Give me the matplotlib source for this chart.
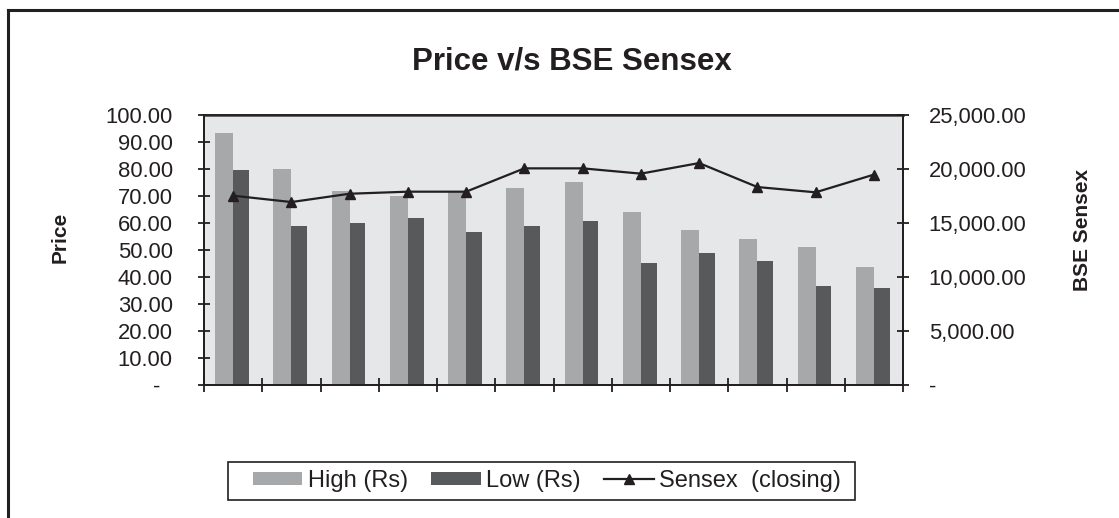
import numpy as np
import matplotlib.pyplot as plt
from matplotlib.lines import Line2D
from matplotlib.patches import Rectangle
from matplotlib.ticker import FuncFormatter, MultipleLocator

plt.rcParams['font.family'] = ['Liberation Sans', 'DejaVu Sans']

# values (12 months, no labels shown)
high = [93.3, 80.0, 72.0, 70.0, 71.6, 73.0, 75.2, 64.0, 57.4, 54.0, 51.1, 43.7]
low = [79.6, 58.9, 60.0, 61.9, 56.7, 59.0, 60.7, 45.2, 48.9, 45.9, 36.7, 35.9]
sensex = [17530, 16940, 17710, 17900, 17900, 20060, 20060, 19570, 20550, 18330, 17840, 19480]

x = np.arange(len(high))

fig = plt.figure(figsize=(11.19, 5.18), dpi=100)
ax = fig.add_axes([204 / 1119, 1 - 385 / 518, 699 / 1119, 270 / 518])
ax.set_facecolor('#e6e7e8')

ax.bar(x - 0.155, high, width=0.31, color='#a7a8aa', label='High (Rs)', zorder=2)
ax.bar(x + 0.135, low, width=0.27, color='#58595b', label='Low (Rs)', zorder=2)
ax.set_xlim(-0.5, len(high) - 0.5)
ax.set_ylim(0, 100)

ax2 = ax.twinx()
ax2.plot(x, sensex, color='#231f20', lw=1.6, marker='^', ms=7, label='Sensex  (closing)')
ax2.set_ylim(0, 25000)

def left_fmt(v, pos):
    return '-  ' if abs(v) < 1e-9 else f'{v:.2f}'

def right_fmt(v, pos):
    return '-' if abs(v) < 1e-9 else f'{v:,.2f}'

ax.yaxis.set_major_locator(MultipleLocator(10))
ax.yaxis.set_major_formatter(FuncFormatter(left_fmt))
ax2.yaxis.set_major_locator(MultipleLocator(5000))
ax2.yaxis.set_major_formatter(FuncFormatter(right_fmt))

ax.set_xticks(np.arange(-0.5, len(high), 1.0))
ax.set_xticklabels([])
ax.tick_params(axis='x', direction='inout', length=10, width=1.3, color='#231f20')
ax.tick_params(axis='y', direction='inout', length=9, width=1.3, color='#231f20',
               labelsize=15.8, labelcolor='#231f20', pad=18)
ax2.tick_params(axis='y', direction='inout', length=9, width=1.3, color='#231f20',
                labelsize=15.8, labelcolor='#231f20', pad=14)

for a in (ax, ax2):
    for s in a.spines.values():
        s.set_color('#231f20')
        s.set_linewidth(1.3)
ax.spines['top'].set_color('#58595b')
ax.spines['top'].set_linewidth(2)

fig.text(572 / 1119, 1 - 61 / 518, 'Price v/s BSE Sensex', ha='center', va='center',
         fontsize=22.5, fontweight='bold', color='#231f20')
fig.text(60 / 1119, 1 - 237 / 518, 'Price', ha='center', va='center', rotation=90,
         fontsize=15, fontweight='bold', color='#231f20')
fig.text(1083 / 1119, 1 - 230 / 518, 'BSE Sensex', ha='center', va='center', rotation=90,
         fontsize=15, fontweight='bold', color='#231f20')

h1, l1 = ax.get_legend_handles_labels()
h2, l2 = ax2.get_legend_handles_labels()
leg = fig.legend(h1 + h2, l1 + l2, loc='center', bbox_to_anchor=(547 / 1119, 1 - 481 / 518),
                 ncol=3, fontsize=17, frameon=False,
                 handlelength=2.1, handleheight=0.5, handletextpad=0.22,
                 columnspacing=1.0, borderpad=0.2)
for t in leg.get_texts():
    t.set_color('#231f20')

# legend box drawn separately (wider padding than matplotlib's frame)
fig.add_artist(Rectangle((228 / 1119, 1 - 500 / 518), 627 / 1119, 38 / 518,
                         transform=fig.transFigure, fill=False,
                         edgecolor='#231f20', lw=1.2))

# outer chart frame (cut off on the right and bottom)
fig.add_artist(Line2D([8 / 1119, 8 / 1119], [0, 1 - 10 / 518], color='#231f20', lw=2.2))
fig.add_artist(Line2D([8 / 1119, 1], [1 - 10 / 518, 1 - 10 / 518], color='#231f20', lw=2.2))

fig.savefig('out.png', dpi=100)
